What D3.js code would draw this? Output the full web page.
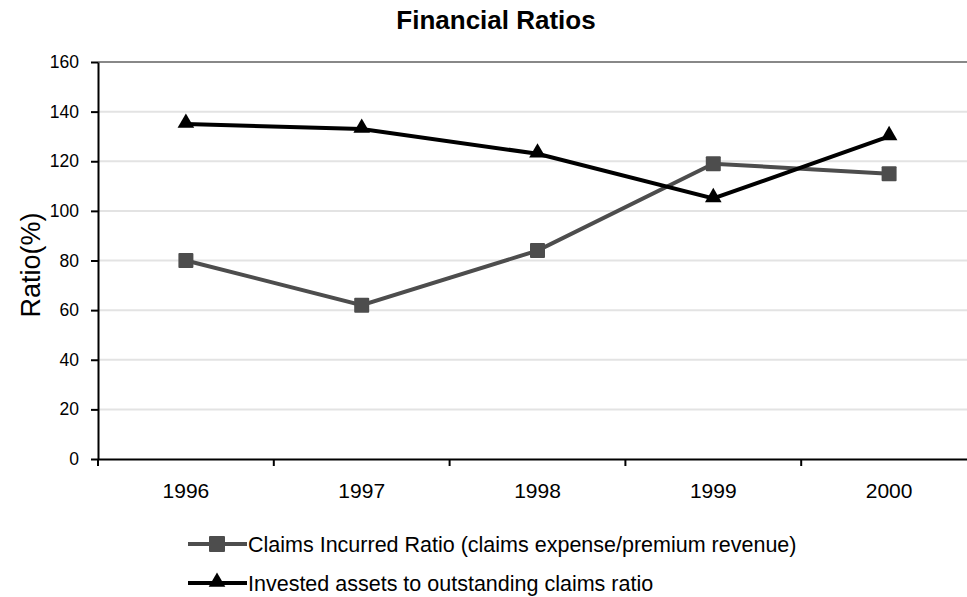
<!DOCTYPE html>
<html>
<head>
<meta charset="utf-8">
<script src="https://cdn.jsdelivr.net/npm/d3@7"></script>
<style>
  html, body { margin: 0; padding: 0; background: #fff; }
  svg { display: block; font-family: "Liberation Sans", Arial, sans-serif; }
</style>
</head>
<body>
<svg id="chart" width="967" height="597"></svg>
<script>
// Chart data
const years = ["1996", "1997", "1998", "1999", "2000"];
const claimsIncurred = [80, 62, 84, 119, 115];
const investedAssets = [135, 133, 123, 105, 130];
const yTicks = [0, 20, 40, 60, 80, 100, 120, 140, 160];
const seriesNames = [
  "Claims Incurred Ratio (claims expense/premium revenue)",
  "Invested assets to outstanding claims ratio"
];

const FONT = "Liberation Sans, Arial, sans-serif";
const svg = d3.select("#chart");
const margin = { left: 98, top: 62, right: -10, bottom: 138 };
const W = 967, H = 597;

const x = d3.scaleBand().domain(years).range([margin.left, W - margin.right]).padding(0);
const y = d3.scaleLinear().domain([0, 160]).range([H - margin.bottom, margin.top]);

// Title
svg.append("text")
  .attr("x", 496).attr("y", 29)
  .attr("text-anchor", "middle")
  .attr("font-size", 26).attr("font-weight", "bold")
  .text("Financial Ratios");

// Gridlines
svg.append("g").selectAll("line")
  .data(yTicks.filter(d => d > 0))
  .join("line")
  .attr("x1", margin.left).attr("x2", W)
  .attr("y1", d => y(d)).attr("y2", d => y(d))
  .attr("stroke", d => d === 160 ? "#888" : "#e3e3e3")
  .attr("stroke-width", 2);

// Y axis
const yAxis = svg.append("g")
  .attr("transform", `translate(${margin.left},0)`)
  .call(d3.axisLeft(y).tickValues(yTicks).tickSize(7).tickPadding(12).tickSizeOuter(0));
yAxis.select(".domain").attr("stroke", "#000").attr("stroke-width", 2);
yAxis.selectAll(".tick line").attr("stroke", "#000").attr("stroke-width", 2);
yAxis.selectAll(".tick text").attr("font-size", 17.5).attr("fill", "#000")
  .attr("font-family", FONT);

// X axis
const xAxis = svg.append("g")
  .attr("transform", `translate(0,${y(0)})`)
  .call(d3.axisBottom(x).tickSize(0).tickPadding(24));
xAxis.select(".domain").attr("stroke", "#000").attr("stroke-width", 2);
xAxis.selectAll(".tick text").attr("font-size", 21).attr("fill", "#000")
  .attr("font-family", FONT);
// Category boundary ticks
svg.append("g").selectAll("line")
  .data(years)
  .join("line")
  .attr("x1", d => x(d)).attr("x2", d => x(d))
  .attr("y1", y(0)).attr("y2", y(0) + 7)
  .attr("stroke", "#000").attr("stroke-width", 2);

// Y axis label
svg.append("text")
  .attr("transform", `translate(40,265) rotate(-90)`)
  .attr("text-anchor", "middle")
  .attr("font-size", 27)
  .text("Ratio(%)");

const cx = d => x(d) + x.bandwidth() / 2;
const line = d3.line().x(d => cx(d.year)).y(d => y(d.value));

const claimsData = years.map((yr, i) => ({ year: yr, value: claimsIncurred[i] }));
const assetsData = years.map((yr, i) => ({ year: yr, value: investedAssets[i] }));

const grey = "#4d4d4d";
const black = "#000";
const tri = d3.symbol().type(d3.symbolTriangle).size(120);

// Claims incurred series (squares)
svg.append("path").datum(claimsData)
  .attr("d", line).attr("fill", "none")
  .attr("stroke", grey).attr("stroke-width", 4);
svg.append("g").selectAll("rect").data(claimsData).join("rect")
  .attr("x", d => cx(d.year) - 7.5).attr("y", d => y(d.value) - 7.5)
  .attr("width", 15).attr("height", 15).attr("rx", 1)
  .attr("fill", grey);

// Invested assets series (triangles)
svg.append("path").datum(assetsData)
  .attr("d", line).attr("fill", "none")
  .attr("stroke", black).attr("stroke-width", 4);
svg.append("g").selectAll("path.tri").data(assetsData).join("path")
  .attr("class", "tri")
  .attr("transform", d => `translate(${cx(d.year)},${y(d.value) - 1})`)
  .attr("d", tri).attr("fill", black);

// Legend
const legendRows = [
  { name: seriesNames[0], color: grey, marker: "square", y: 544 },
  { name: seriesNames[1], color: black, marker: "triangle", y: 583 }
];
const lg = svg.append("g");
legendRows.forEach(r => {
  lg.append("line").attr("x1", 188).attr("x2", 247)
    .attr("y1", r.y).attr("y2", r.y)
    .attr("stroke", r.color).attr("stroke-width", 4);
  if (r.marker === "square") {
    lg.append("rect").attr("x", 209).attr("y", r.y - 8)
      .attr("width", 16).attr("height", 16).attr("rx", 1).attr("fill", r.color);
  } else {
    lg.append("path").attr("transform", `translate(217,${r.y - 1})`)
      .attr("d", tri).attr("fill", r.color);
  }
  lg.append("text").attr("x", 248).attr("y", r.y + 8)
    .attr("font-size", 21.5).text(r.name);
});
</script>
</body>
</html>
